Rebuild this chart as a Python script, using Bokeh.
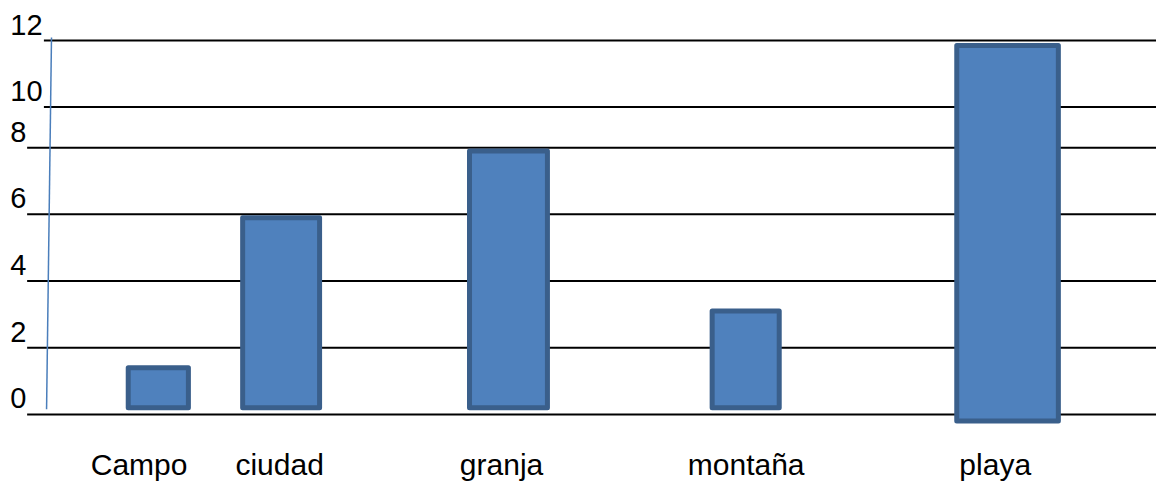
from bokeh.plotting import figure
from bokeh.models import ColumnDataSource, Range1d, LinearInterpolator
from bokeh.transform import transform
from bokeh.core.properties import value
from bokeh.embed import file_html
from bokeh.resources import INLINE

# ---- data ----
categories = ["Campo", "ciudad", "granja", "montaña", "playa"]
values = [1.4, 5.9, 7.9, 3.1, 11.85]
tick_values = [0, 2, 4, 6, 8, 10, 12]
tick_labels = ["0", "2", "4", "6", "8", "10", "12"]

# ---- layout (hand-drawn positions of the original) ----
bar_x = [160, 284.5, 515, 755.5, 1021]
bar_w = [61, 78, 79, 68, 103]
bar_base = [0.2, 0.2, 0.2, 0.2, -0.2]
label_x = [140.5, 283, 508, 756, 1008.5]
grid_x0 = [27, 27, 27, 27, 27, 44, 44]

# the original's value axis is uneven above 8 (10 and 12 are drawn closer)
axis_map = LinearInterpolator(
    x=[-5, 0, 2, 4, 6, 8, 10, 12, 20],
    y=[-5, 0, 2, 4, 6, 8, 9.22, 11.21, 19.21],
    clip=False,
)

REF_W, REF_H = 1172, 497
W, H = 1156, 481
px_per_unit = 34.46
zero_px = 427.7
y_end = zero_px / px_per_unit
y_start = y_end - REF_H / px_per_unit

p = figure(
    width=W, height=H,
    x_range=Range1d(0, REF_W),
    y_range=Range1d(y_start, y_end),
    output_backend="svg", toolbar_location=None,
    min_border=0, outline_line_color=None,
)
p.axis.visible = False
p.grid.visible = False
p.background_fill_color = "white"
p.border_fill_color = "white"

# gridlines
grid_src = ColumnDataSource(dict(
    y=tick_values, x0=grid_x0, x1=[REF_W] * len(tick_values), label=tick_labels,
))
p.segment(x0="x0", x1="x1", y0=transform("y", axis_map), y1=transform("y", axis_map),
          source=grid_src, line_color="#000000", line_width=2)

# tick labels
p.text(x=10, y=transform("y", axis_map), text="label", source=grid_src,
       text_font=value("Liberation Sans"), text_font_size="29px",
       text_color="#000000", text_align="left", text_baseline="alphabetic",
       y_offset=-16)

# slanted blue axis line
axis_src = ColumnDataSource(dict(x0=[46.7], y0=[0.157], x1=[51.7], y1=[12.09]))
p.segment(x0="x0", y0=transform("y0", axis_map), x1="x1", y1=transform("y1", axis_map),
          source=axis_src, line_color="#4A7EBB", line_width=1.5)

# bars
bar_src = ColumnDataSource(dict(
    x=bar_x, w=bar_w, top=values, bottom=bar_base, cat=categories,
))
p.vbar(x="x", width="w", top=transform("top", axis_map), bottom=transform("bottom", axis_map),
       source=bar_src, fill_color="#4F81BD", line_color="#3A5F8B", line_width=5,
       line_join="round")

# category labels
label_src = ColumnDataSource(dict(x=label_x, cat=categories))
label_y = (zero_px - 479.5) / px_per_unit
p.text(x="x", y=label_y, text="cat", source=label_src,
       text_font=value("Liberation Sans"), text_font_size="30px",
       text_color="#000000", text_align="center", text_baseline="alphabetic")

open("out.html", "w").write(file_html(p, INLINE))
